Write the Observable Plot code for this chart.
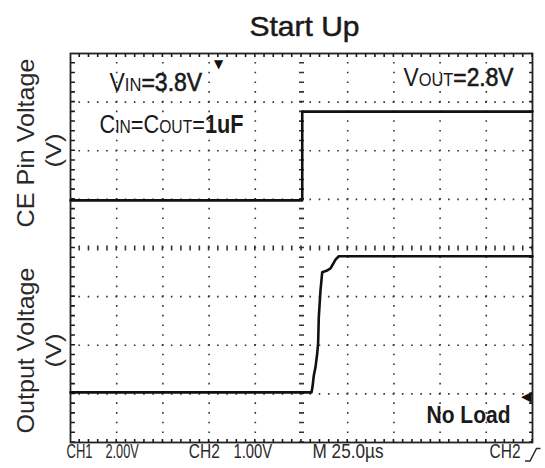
<!DOCTYPE html>
<html>
<head>
<meta charset="utf-8">
<script src="https://cdn.jsdelivr.net/npm/d3@7"></script>
<script src="https://cdn.jsdelivr.net/npm/@observablehq/plot@0.6"></script>
<style>
  html, body { margin: 0; padding: 0; background: #fff; }
</style>
</head>
<body>
<div id="chart"></div>
<script>
// ---- scope settings (read-out at the bottom of the screen) ----
const timePerDiv = 25;          // µs / div
const ch1VoltsPerDiv = 2;       // CH1 2.00V
const ch2VoltsPerDiv = 1;       // CH2 1.00V

// ---- CH1 : CE pin voltage (V) vs time (µs) ----
const ceTime  = [-125, 0.4, 0.4, 125];
const ceVolts = [0, 0, 3.65, 3.65];

// ---- CH2 : output voltage (V) vs time (µs) ----
const outTime  = [-125, 5.4, 5.95, 6.66, 7.58, 8.5, 9.0, 9.36, 10.28, 11.2, 13.5, 15.7, 16.6, 18.4, 20.2, 125];
const outVolts = [0, 0, 0.11, 0.35, 0.52, 0.80, 1.01, 1.55, 2.10, 2.47, 2.50, 2.55, 2.61, 2.73, 2.80, 2.80];

// ---- texts ----
const titleText = "Start Up";
const yLabels = ["CE Pin Voltage", "Output Voltage"];
const unitLabel = "(V)";
const annotations = ["VIN=3.8V", "CIN=COUT=1uF", "VOUT=2.8V", "No Load"];
const footerLabels = ["CH1", "2.00V", "CH2", "1.00V", "M 25.0µs", "CH2"];

// ---- layout ----
const W = 545, H = 468, ML = 70, MR = 13, MT = 53, MB = 26;
const xDivs = 10, yDivs = 8;
const tMax = timePerDiv * xDivs / 2;
const pxPerUs = (W - ML - MR) / (2 * tMax);
const pxPerDiv = (H - MT - MB) / yDivs;
const minorX = pxPerUs * timePerDiv / 5;   // dot spacing along horizontal lines
const minorY = pxPerDiv / 5;               // dot spacing along vertical lines
const ch1Ground = 0.98;   // divisions above centre
const ch2Ground = -2.97;  // divisions below centre
// pixel -> data helpers for text placement
const tx = px => -tMax + (px - ML) / pxPerUs;
const dv = py => yDivs / 2 - (py - MT) / pxPerDiv;

const ce = ceTime.map((t, i) => ({t, d: ch1Ground + ceVolts[i] / ch1VoltsPerDiv}));
const out = outTime.map((t, i) => ({t, d: ch2Ground + outVolts[i] / ch2VoltsPerDiv}));

const gridT = d3.range(-tMax + timePerDiv, tMax, timePerDiv).filter(t => Math.abs(t) > 1e-9);
const gridD = d3.range(-yDivs / 2 + 1, yDivs / 2).filter(d => d !== 0);

const ink = "#1a1a1a", gridInk = "#333";
const dotH = {stroke: gridInk, strokeWidth: 1.6, strokeDasharray: `1.6 ${minorX - 1.6}`, strokeDashoffset: 0.8};
const dotV = {stroke: gridInk, strokeWidth: 1.6, strokeDasharray: `1.6 ${minorY - 1.6}`, strokeDashoffset: 0.8};

const font = "'Liberation Sans', Arial, Helvetica, sans-serif";

const labelRows = [
  {s: yLabels[0], t: tx(33), d: dv(142.5), size: 24},
  {s: yLabels[1], t: tx(33), d: dv(350), size: 24},
  {s: unitLabel, t: tx(60), d: dv(150), size: 22},
  {s: unitLabel, t: tx(60), d: dv(350), size: 22}
];
const annRows = [
  {s: annotations[0], t: tx(109), d: dv(90.3)},
  {s: annotations[1], t: tx(99), d: dv(132)},
  {s: annotations[2], t: tx(403), d: dv(85)}
];
const footRows = [
  {s: footerLabels[0], t: tx(66)},
  {s: footerLabels[1], t: tx(105)},
  {s: footerLabels[2], t: tx(188.3)},
  {s: footerLabels[3], t: tx(233)},
  {s: footerLabels[4], t: tx(312)},
  {s: footerLabels[5], t: tx(489)}
];

const plot = Plot.plot({
  width: W, height: H,
  marginLeft: ML, marginRight: MR, marginTop: MT, marginBottom: MB,
  x: {domain: [-tMax, tMax], axis: null},
  y: {domain: [-yDivs / 2, yDivs / 2], axis: null},
  style: {fontFamily: font, background: "#fff", color: ink, overflow: "visible"},
  marks: [
    // dotted graticule
    Plot.ruleY(gridD, dotH),
    Plot.ruleX(gridT, dotV),
    // centre axes with minor ticks
    Plot.ruleY([0], {...dotH, strokeWidth: 5}),
    Plot.ruleX([0], {...dotV, strokeWidth: 5}),
    // edge ticks (inside the frame)
    Plot.ruleY([yDivs / 2 - 1.7 / pxPerDiv], {...dotH, stroke: ink, strokeWidth: 3.4}),
    Plot.ruleY([-yDivs / 2 + 1.7 / pxPerDiv], {...dotH, stroke: ink, strokeWidth: 3.4}),
    Plot.ruleX([-tMax + 2.2 / pxPerUs], {...dotV, stroke: ink, strokeWidth: 4.4}),
    Plot.ruleX([tMax - 1.7 / pxPerUs], {...dotV, stroke: ink, strokeWidth: 3.4}),
    Plot.frame({stroke: "#222", strokeWidth: 1.8}),
    // traces
    Plot.line(ce, {x: "t", y: "d", stroke: "#111", strokeWidth: 2.6}),
    Plot.line(out, {x: "t", y: "d", stroke: "#111", strokeWidth: 2.6}),
    // trigger markers
    Plot.text(["▼"], {x: tx(218), y: dv(63.5), fontSize: 12, fill: "#111", lineAnchor: "middle", fontFamily: "DejaVu Sans"}),
    Plot.text(["◀"], {x: tx(526), y: dv(396), fontSize: 14, fill: "#111", lineAnchor: "middle", fontFamily: "DejaVu Sans"}),
    // title
    Plot.text([titleText], {x: tx(304), y: dv(35.5), fontSize: 28, fill: "#1a1a1a", textAnchor: "middle", lineAnchor: "bottom",
      stroke: "#1a1a1a", strokeWidth: 0.5}),
    // rotated axis labels
    Plot.text(labelRows, {x: "t", y: "d", text: "s", fontSize: "size", rotate: -90, textAnchor: "middle", lineAnchor: "bottom", fill: "#2a2a2a"}),
    // annotations
    Plot.text(annRows, {x: "t", y: "d", text: "s", fontSize: 25, textAnchor: "start", lineAnchor: "bottom", fill: "#1a1a1a"}),
    Plot.text([annotations[3]], {x: tx(426), y: dv(422), fontSize: 23, fontWeight: "bold", textAnchor: "start", lineAnchor: "bottom", fill: "#1a1a1a"}),
    // footer read-out
    Plot.text(footRows, {x: "t", y: dv(457.5), text: "s", fontSize: 21, textAnchor: "start", lineAnchor: "bottom", fill: "#2a2a2a"})
  ]
});

// fit text widths to the condensed scope font, and add the small-cap subscripts
const specs = {
  "Start Up": {len: 110},
  "CE Pin Voltage": {len: 169},
  "Output Voltage": {len: 166},
  "(V)": {len: 34},
  "VIN=3.8V": {len: 92.7, parts: [["V", 25], ["IN", 18], ["=3.8V", 25, 1]]},
  "CIN=COUT=1uF": {len: 144, parts: [["C", 25], ["IN", 18], ["=C", 25], ["OUT", 18], ["=", 25], ["1uF", 25, 2]]},
  "VOUT=2.8V": {len: 110, parts: [["V", 25], ["OUT", 18], ["=2.8V", 25, 1]]},
  "No Load": {len: 84},
  "CH1": {len: 26}, "2.00V": {len: 33.3}, "CH2": {len: 31}, "1.00V": {len: 38.7}, "M 25.0µs": {len: 71}
};
const NS = "http://www.w3.org/2000/svg";
plot.querySelectorAll("text").forEach(el => {
  const s = specs[el.textContent];
  if (!s) return;
  if (s.parts) {
    el.textContent = "";
    for (const [str, size, w] of s.parts) {
      const ts = document.createElementNS(NS, "tspan");
      ts.textContent = str;
      ts.setAttribute("font-size", size);
      if (w === 2) ts.setAttribute("font-weight", "bold");
      if (w === 1) { ts.setAttribute("stroke", "#1a1a1a"); ts.setAttribute("stroke-width", "0.6"); }
      el.appendChild(ts);
    }
  }
  el.setAttribute("textLength", s.len);
  el.setAttribute("lengthAdjust", "spacingAndGlyphs");
});
// rising-edge trigger icon after "CH2"
const edge = document.createElementNS(NS, "path");
edge.setAttribute("d", "M525,461H530L536.5,448.5H540.5");
edge.setAttribute("fill", "none");
edge.setAttribute("stroke", "#2a2a2a");
edge.setAttribute("stroke-width", "1.5");
plot.appendChild(edge);

document.getElementById("chart").appendChild(plot);
</script>
</body>
</html>
